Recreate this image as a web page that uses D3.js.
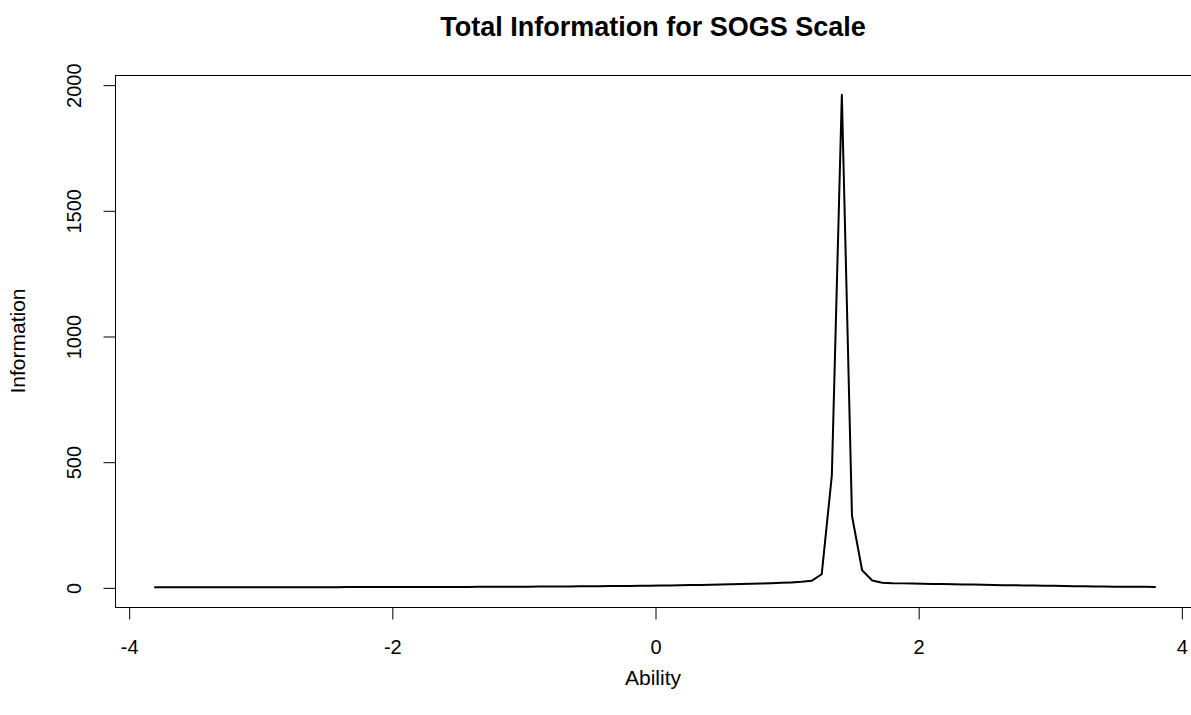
<!DOCTYPE html>
<html>
<head>
<meta charset="utf-8">
<script src="https://cdn.jsdelivr.net/npm/d3@7"></script>
<style>
  html, body { margin: 0; padding: 0; background: #fff; }
  svg { display: block; }
  text { font-family: "Liberation Sans", Arial, Helvetica, sans-serif; fill: #000; }
</style>
</head>
<body>
<script>
// Ability grid (theta) at which the total test information was evaluated
const ability = [
  -3.800, -3.723, -3.646, -3.570, -3.493, -3.416, -3.339, -3.263, -3.186, -3.109,
  -3.032, -2.956, -2.879, -2.802, -2.725, -2.648, -2.572, -2.495, -2.418, -2.341,
  -2.265, -2.188, -2.111, -2.034, -1.958, -1.881, -1.804, -1.727, -1.651, -1.574,
  -1.497, -1.420, -1.344, -1.267, -1.190, -1.113, -1.036, -0.960, -0.883, -0.806,
  -0.729, -0.653, -0.576, -0.499, -0.422, -0.345, -0.269, -0.192, -0.115, -0.038,
   0.038,  0.115,  0.192,  0.269,  0.345,  0.422,  0.499,  0.576,  0.653,  0.729,
   0.806,  0.883,  0.960,  1.036,  1.113,  1.190,  1.267,  1.344,  1.420,  1.497,
   1.574,  1.651,  1.727,  1.804,  1.881,  1.958,  2.034,  2.111,  2.188,  2.265,
   2.341,  2.418,  2.495,  2.572,  2.648,  2.725,  2.802,  2.879,  2.956,  3.032,
   3.109,  3.186,  3.263,  3.339,  3.416,  3.493,  3.570,  3.646,  3.723,  3.800
];

// Total information at each ability point
const information = [
  0.2, 0.2, 0.2, 0.3, 0.3, 0.3, 0.3, 0.4, 0.4, 0.4,
  0.5, 0.5, 0.5, 0.6, 0.6, 0.7, 0.7, 0.8, 0.8, 0.9,
  0.9, 1.0, 1.0, 1.1, 1.2, 1.2, 1.3, 1.4, 1.5, 1.6,
  1.7, 1.8, 1.9, 2.0, 2.2, 2.3, 2.5, 2.7, 2.9, 3.1,
  3.3, 3.6, 3.9, 4.2, 4.5, 4.9, 5.3, 5.7, 6.2, 6.7,
  7.2, 7.8, 8.4, 9.1, 9.8, 10.6, 11.4, 12.3, 13.3, 14.3,
  15.4, 16.6, 18.0, 19.6, 21.8, 26.0, 52.0, 445.0, 1960.0, 285.0,
  68.0, 27.0, 18.5, 16.5, 15.8, 15.1, 14.4, 13.7, 13.0, 12.3,
  11.6, 10.9, 10.2, 9.5, 8.8, 8.2, 7.6, 7.0, 6.4, 5.9,
  5.0, 4.5, 4.0, 3.6, 3.2, 2.8, 2.5, 2.2, 1.9, 1.7
];

const xTicks = [-4, -2, 0, 2, 4];
const yTicks = [0, 500, 1000, 1500, 2000];

const chartTitle = "Total Information for SOGS Scale";
const xTitle = "Ability";
const yTitle = "Information";

const W = 1191, H = 715;
const plot = { left: 115, right: 1195, top: 75, bottom: 607 };

// Axis ranges padded by 4% on each side
function padded(ext) {
  const r = ext[1] - ext[0];
  return [ext[0] - 0.04 * r, ext[1] + 0.04 * r];
}

const x = d3.scaleLinear().domain(padded(d3.extent(ability))).range([plot.left, plot.right]);
const y = d3.scaleLinear().domain(padded(d3.extent(information))).range([plot.bottom, plot.top]);

const svg = d3.select("body").append("svg").attr("width", W).attr("height", H);

// Plot frame
svg.append("rect")
  .attr("x", plot.left + 0.5).attr("y", plot.top + 0.5)
  .attr("width", plot.right - plot.left).attr("height", plot.bottom - plot.top)
  .attr("fill", "none").attr("stroke", "#000").attr("stroke-width", 1);

// Information curve
const pts = ability.map((a, i) => [a, information[i]]);
svg.append("path")
  .datum(pts)
  .attr("fill", "none")
  .attr("stroke", "#000")
  .attr("stroke-width", 2)
  .attr("stroke-linejoin", "round")
  .attr("stroke-linecap", "round")
  .attr("d", d3.line().x(d => x(d[0])).y(d => y(d[1])));

// Bottom axis
const gx = svg.append("g")
  .attr("transform", `translate(0.5,${plot.bottom + 0.5})`)
  .call(d3.axisBottom(x).tickValues(xTicks).tickSize(12).tickSizeOuter(0).tickPadding(20)
    .tickFormat(d => d < 0 ? "-" + Math.abs(d) : String(d)));
gx.select(".domain").attr("d", `M${x(xTicks[0])},0H${x(xTicks[xTicks.length - 1])}`);
gx.selectAll("line").attr("stroke", "#000");
gx.selectAll("text").attr("font-size", 20).attr("font-family", "Liberation Sans, Arial, sans-serif");

// Left axis with rotated labels
const gy = svg.append("g")
  .attr("transform", `translate(${plot.left + 0.5},0.5)`)
  .call(d3.axisLeft(y).tickValues(yTicks).tickSize(12).tickSizeOuter(0).tickFormat(d3.format("d")));
gy.select(".domain").attr("d", `M0,${y(yTicks[0])}V${y(yTicks[yTicks.length - 1])}`);
gy.selectAll("line").attr("stroke", "#000");
gy.selectAll(".tick text")
  .attr("x", null).attr("dy", null)
  .attr("text-anchor", "middle")
  .attr("font-size", 20)
  .attr("font-family", "Liberation Sans, Arial, sans-serif")
  .attr("transform", "translate(-35,0) rotate(-90)")
  .attr("y", 0);

// Titles
svg.append("text")
  .attr("x", (plot.left + plot.right) / 2 - 2).attr("y", 36)
  .attr("text-anchor", "middle")
  .attr("font-size", 27).attr("font-weight", "bold")
  .text(chartTitle);

svg.append("text")
  .attr("x", (plot.left + plot.right) / 2 - 2).attr("y", 685)
  .attr("text-anchor", "middle")
  .attr("font-size", 21)
  .text(xTitle);

svg.append("text")
  .attr("transform", `translate(25,${(plot.top + plot.bottom) / 2}) rotate(-90)`)
  .attr("text-anchor", "middle")
  .attr("font-size", 21)
  .text(yTitle);
</script>
</body>
</html>
